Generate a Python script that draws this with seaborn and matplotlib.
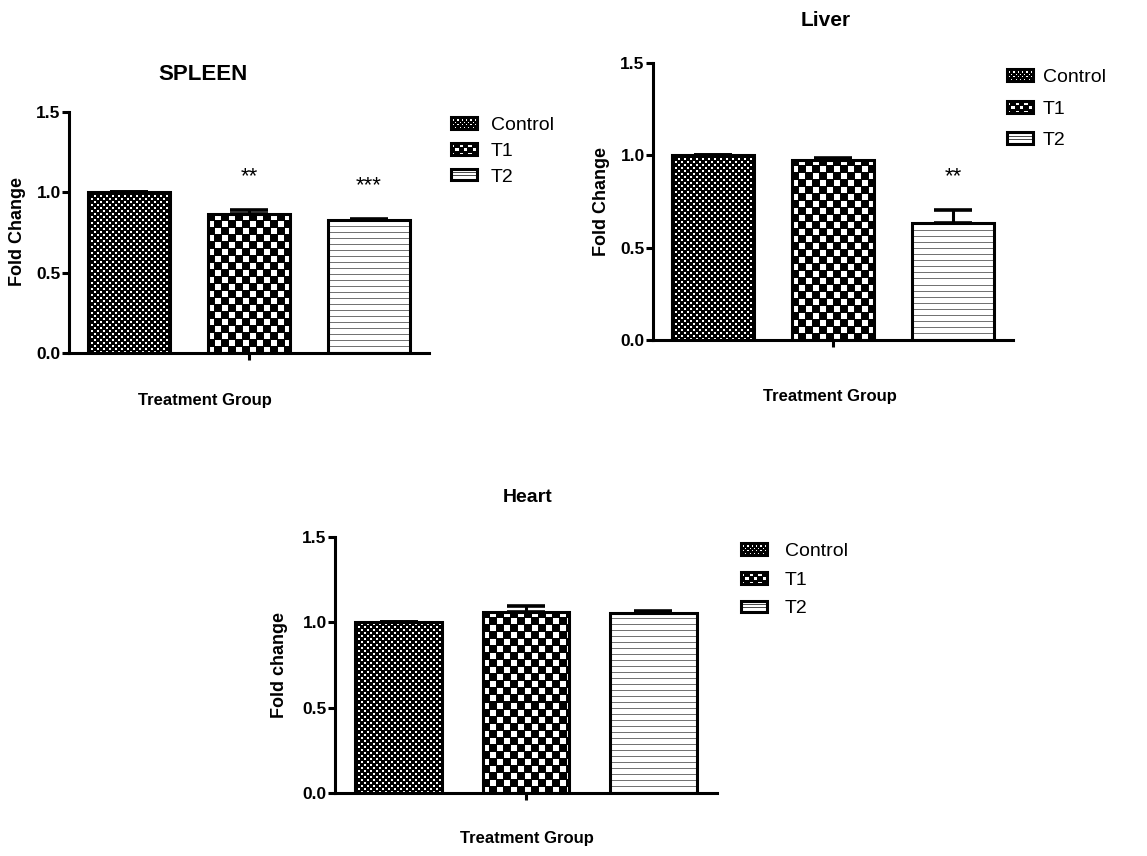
import numpy as np
import pandas as pd
import matplotlib
matplotlib.use("Agg")
import matplotlib.pyplot as plt
import seaborn as sns
from matplotlib.patches import Rectangle
from matplotlib.legend_handler import HandlerBase
from matplotlib.image import BboxImage
from matplotlib.transforms import Bbox, TransformedBbox
from matplotlib.colors import Normalize

# ---------------- data ----------------
groups = ["Control", "T1", "T2"]

spleen_vals = [1.0, 0.865, 0.825]
spleen_err = [0.0, 0.025, 0.010]
spleen_sig = ["", "**", "***"]

liver_vals = [1.0, 0.973, 0.634]
liver_err = [0.0, 0.010, 0.070]
liver_sig = ["", "", "**"]

heart_vals = [1.0, 1.063, 1.053]
heart_err = [0.0, 0.035, 0.013]
heart_sig = ["", "", ""]

yticks = [0.0, 0.5, 1.0, 1.5]
ytick_labels = ["0.0", "0.5", "1.0", "1.5"]

# ---------------- style ----------------
sns.set_theme(style="ticks")
plt.rcParams["font.family"] = ["Liberation Sans", "DejaVu Sans"]
for k in ["text.color", "axes.labelcolor", "xtick.color", "ytick.color",
          "axes.edgecolor"]:
    plt.rcParams[k] = "black"

W, H, DPI = 1147, 856, 100
fig = plt.figure(figsize=(W / DPI, H / DPI), dpi=DPI)
fig.patch.set_facecolor("white")


def pattern(kind, w, h):
    yy, xx = np.mgrid[0:h, 0:w]
    if kind == "Control":
        white = (((xx // 3) + (yy // 3)) % 2 == 0) & (xx % 3 != 2) & (yy % 3 != 2)
        return np.where(white, 1.0, 0.0)
    if kind == "T1":
        white = (((xx // 7) + (yy // 7)) % 2 == 0) & (xx % 7 != 6) & (yy % 7 != 6)
        return np.where(white, 1.0, 0.0)
    arr = np.ones((h, w))
    arr[(yy % 6) == 0] = 0.45
    return arr


def legend_pattern(kind, w=25, h=10):
    yy, xx = np.mgrid[0:h, 0:w]
    if kind == "Control":
        white = (((xx // 2) + (yy // 2)) % 2 == 0) & (xx % 2 == 0) & (yy % 2 == 0)
        return np.where(white, 1.0, 0.0)
    if kind == "T1":
        white = (((xx // 4) + (yy // 4)) % 2 == 0) & (xx % 4 != 3) & (yy % 4 != 3)
        return np.where(white, 1.0, 0.0)
    arr = np.ones((h, w))
    arr[[3, 6], :] = 0.3
    return arr


class HandlerPattern(HandlerBase):
    def __init__(self, kind):
        super().__init__()
        self.kind = kind

    def create_artists(self, legend, orig_handle, xdescent, ydescent,
                       width, height, fontsize, trans):
        bb = Bbox.from_bounds(-xdescent, -ydescent, width, height)
        tbb = TransformedBbox(bb, trans)
        im = BboxImage(tbb, cmap="gray", norm=Normalize(0, 1),
                       interpolation="nearest")
        im.set_data(legend_pattern(self.kind))
        rect = Rectangle((-xdescent, -ydescent), width, height,
                         facecolor="none", edgecolor="black", lw=2.2,
                         transform=trans)
        return [im, rect]


def px_rect(left, top, right, bottom):
    return [left / W, 1 - bottom / H, (right - left) / W, (bottom - top) / H]


def draw_panel(rect, vals, errs, sigs, title, title_xy, title_size, ylabel,
               ylabel_xy, xlabel_xy, legend_xy, legend_spacing, legend_pad):
    ax = fig.add_axes(rect)
    df = pd.DataFrame({"Group": groups, "Fold": vals})
    sns.barplot(data=df, x="Group", y="Fold", hue="Group", palette=["white"] * 3,
                width=0.68, edgecolor="black", linewidth=2.2, legend=False,
                errorbar=None, ax=ax, zorder=3)
    ax.set_xlim(-0.5, 2.5)
    ax.set_ylim(0, 1.5)

    xs = np.arange(len(groups))
    ax.errorbar(xs, vals, yerr=[np.zeros(len(errs)), errs], fmt="none",
                ecolor="black", elinewidth=2.2, capsize=14, capthick=2.6,
                zorder=2)

    fig.canvas.draw()
    for patch, g in zip(ax.patches, groups):
        x0, y0 = patch.get_x(), patch.get_y()
        x1, y1 = x0 + patch.get_width(), y0 + patch.get_height()
        (p0x, p0y), (p1x, p1y) = ax.transData.transform([(x0, y0), (x1, y1)])
        wpx, hpx = max(int(round(p1x - p0x)), 1), max(int(round(p1y - p0y)), 1)
        im = ax.imshow(pattern(g, wpx, hpx), cmap="gray", vmin=0, vmax=1,
                       extent=(x0, x1, y0, y1), origin="lower",
                       interpolation="nearest", aspect="auto", zorder=2.5)
        im.set_clip_path(patch)
        patch.set_facecolor("none")
    ax.set_xlim(-0.5, 2.5)
    ax.set_ylim(0, 1.5)

    for x, v, e, s in zip(xs, vals, errs, sigs):
        if s:
            ax.annotate(s, (x, v + e), xytext=(0, 24), textcoords="offset points",
                        ha="center", va="center", fontsize=16, color="black")

    ax.set_facecolor("white")
    sns.despine(ax=ax)
    for sp in ["left", "bottom"]:
        ax.spines[sp].set_linewidth(2.2)
        ax.spines[sp].set_color("black")
    ax.set_yticks(yticks)
    ax.set_yticklabels(ytick_labels, fontsize=12.5, fontweight="bold")
    ax.set_xticks([1])
    ax.set_xticklabels([""])
    ax.tick_params(axis="both", direction="out", length=5, width=2.2,
                   color="black", pad=1)
    ax.grid(False)

    inv = ax.transAxes.inverted()
    ax.set_ylabel(ylabel, fontsize=13, fontweight="bold")
    ax.yaxis.set_label_coords(*inv.transform((ylabel_xy[0], H - ylabel_xy[1])))
    ax.yaxis.label.set_va("center")
    ax.set_xlabel("Treatment Group", fontsize=12, fontweight="bold")
    ax.xaxis.set_label_coords(*inv.transform((xlabel_xy[0], H - xlabel_xy[1])))
    ax.xaxis.label.set_va("center")
    tx, ty = inv.transform((title_xy[0], H - title_xy[1]))
    ax.set_title(title, fontsize=title_size, fontweight="bold", x=tx, y=ty,
                 va="center", ha="center", pad=0)

    handles = [Rectangle((0, 0), 1, 1) for _ in groups]
    hmap = {h: HandlerPattern(g) for h, g in zip(handles, groups)}
    ax.legend(handles, groups, handler_map=hmap, loc="upper left",
              bbox_to_anchor=(legend_xy[0] / W, 1 - legend_xy[1] / H),
              bbox_transform=fig.transFigure, frameon=False, fontsize=14,
              handlelength=1.35, handleheight=0.55, handletextpad=legend_pad,
              labelspacing=legend_spacing, borderaxespad=0, borderpad=0)
    return ax


draw_panel(px_rect(69, 112, 429, 353), spleen_vals, spleen_err, spleen_sig,
           "SPLEEN", (203, 75), 16, "Fold Change", (18, 232), (205, 400),
           (451, 117), 0.45, 0.7)
draw_panel(px_rect(653, 63, 1013, 340), liver_vals, liver_err, liver_sig,
           "Liver", (826, 20), 15, "Fold Change", (601, 201), (830, 397),
           (1007, 69), 0.75, 0.5)
draw_panel(px_rect(335, 537, 717, 793), heart_vals, heart_err, heart_sig,
           "Heart", (528, 498), 14, "Fold change", (279, 665), (527, 838),
           (741, 543), 0.6, 0.9)

fig.savefig("out.png", dpi=DPI, facecolor="white")
